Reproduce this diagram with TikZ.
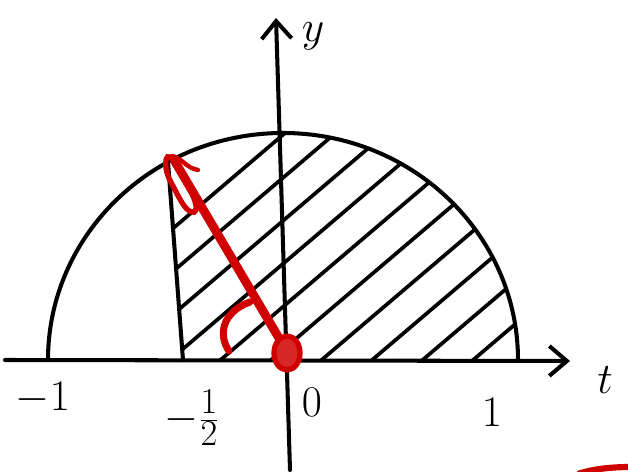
\documentclass[tikz,border=0pt]{standalone}
\usetikzlibrary{arrows.meta}
\definecolor{skred}{RGB}{208,0,0}
\tikzset{
  sk axis/.style={line width=2.3pt,line cap=round,
    -{Straight Barb[length=10pt,width=17pt,line width=2.3pt]}},
  sk line/.style={line width=2.3pt,line cap=round},
  sk hatch/.style={line width=2.1pt,line cap=round},
  sk red/.style={draw=skred,line width=5pt,line cap=round,line join=round},
  sk label/.style={font=\fontsize{28}{32}\selectfont,inner sep=0pt}
}
\begin{document}
\begin{tikzpicture}[x=0.02cm,y=-0.02cm]
  \useasboundingbox (0,0) rectangle (628,472);
  % axes
  \coordinate (xs) at (5,360);
  \coordinate (xe) at (570,361);
  \coordinate (ys) at (290,470);
  \coordinate (ye) at (276,18);
  \draw[sk axis] (xs) -- (xe);
  \draw[sk axis] (ys) -- (ye);
  % half disc and the cut at -1/2
  \draw[sk line] (48,360) arc[start angle=180,end angle=360,x radius=235,y radius=227];
  \draw[sk line] (168,162) -- (183,360);
  % hatching
  \begin{scope}
    \clip (183,360) -- (168,162)
      arc[start angle=240.7,end angle=360,x radius=235,y radius=227] -- cycle;
    \foreach \c in {140,183,...,560}
      \draw[sk hatch] (150,{\c+108}) -- (560,{\c-241});
  \end{scope}
  % red marks
  \draw[sk red] (174,160) -- (283,345);
  \draw[skred,line width=3pt,line cap=round] plot[smooth cycle,tension=0.8]
    coordinates {(170,157) (184,178) (196,206) (188,210) (174,188) (166,168)};
  \draw[skred,line width=2.5pt,line cap=round] (172,156) .. controls (182,158) and (186,168) .. (198,170);
  \draw[skred,line width=4pt,line cap=round] (250,302) .. controls (222,312) and (218,335) .. (229,351);
  \draw[skred,fill=skred!85,line width=3pt] (287,353) ellipse[x radius=13,y radius=17];
  \draw[skred,line width=3.5pt] (578,474) .. controls (592,469) and (612,467) .. (630,467);
  % labels
  \node[sk label] (m1) at (43,398) {$-1$};
  \node[sk label] (mh) at (192,418) {$-\frac{1}{2}$};
  \node[sk label] (z0) at (312,402) {$0$};
  \node[sk label] (p1) at (492,412) {$1$};
  \node[sk label] (tl) at (605,380) {$t$};
  \node[sk label] (yl) at (313,36) {$y$};
\end{tikzpicture}
\end{document}
